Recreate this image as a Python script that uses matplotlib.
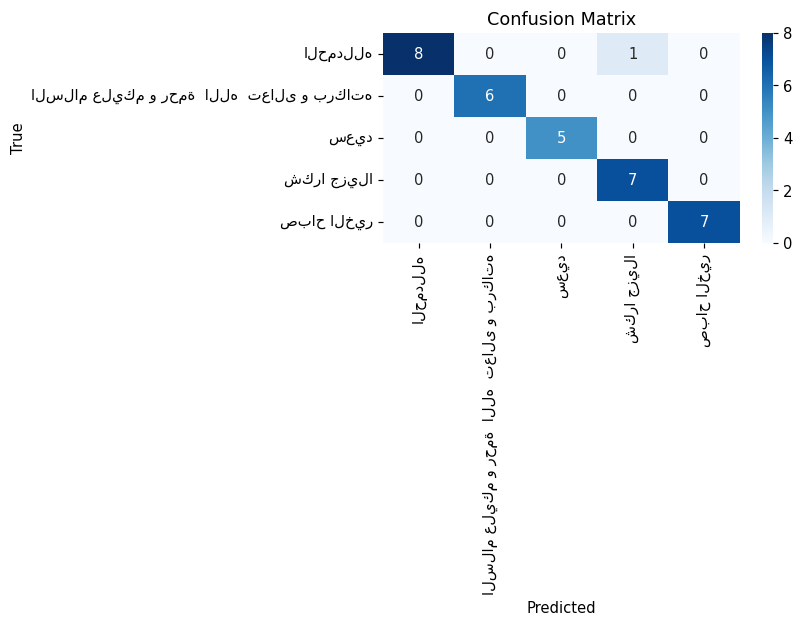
import matplotlib
matplotlib.use("Agg")
import matplotlib.pyplot as plt
import numpy as np
import seaborn as sns

# class names in the order used by the classifier
CLASSES = [
    "الحمدلله",
    "السلام عليكم و رحمة  الله  تعالى و بركاته",
    "سعيد",
    "شكرا جزيلا",
    "صباح الخير",
]

# rows = true class, columns = predicted class
CM_ROW_0 = [8, 0, 0, 1, 0]
CM_ROW_1 = [0, 6, 0, 0, 0]
CM_ROW_2 = [0, 0, 5, 0, 0]
CM_ROW_3 = [0, 0, 0, 7, 0]
CM_ROW_4 = [0, 0, 0, 0, 7]

cm = np.array([CM_ROW_0, CM_ROW_1, CM_ROW_2, CM_ROW_3, CM_ROW_4])

plt.figure(figsize=(8, 6))
sns.heatmap(cm, annot=True, fmt="d", cmap="Blues",
            xticklabels=CLASSES, yticklabels=CLASSES)
plt.xlabel("Predicted")
plt.ylabel("True")
plt.title("Confusion Matrix")
plt.tight_layout()
plt.savefig("out.png", dpi=106, bbox_inches="tight")
